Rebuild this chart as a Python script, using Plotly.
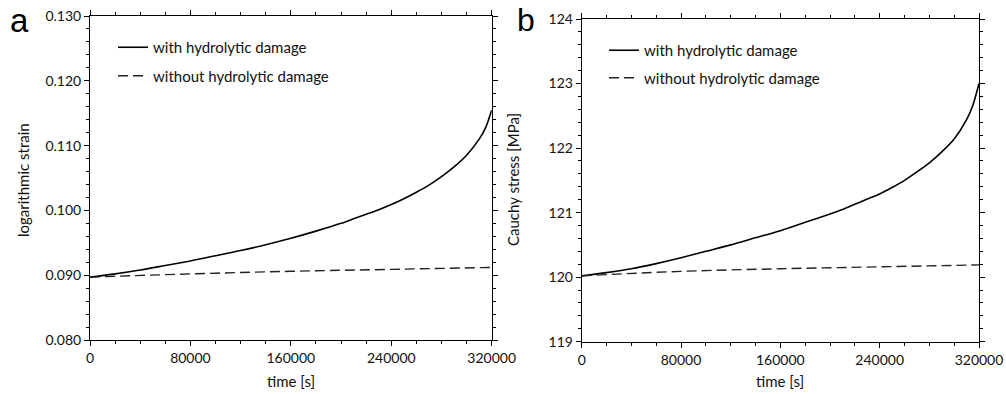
import plotly.graph_objects as go

# ---- data ----
time_s = [0, 20000, 40000, 60000, 80000, 100000, 120000, 140000, 160000, 180000,
          200000, 210000, 220000, 230000, 240000, 250000, 260000, 270000, 280000, 290000,
          300000, 310000, 315000, 320000]
strain_with = [0.0897, 0.0902, 0.0908, 0.0915, 0.0922, 0.0930, 0.0938, 0.0947, 0.0957, 0.0968,
               0.0980, 0.0987, 0.0994, 0.1001, 0.1009, 0.1018, 0.1028, 0.1039, 0.1052, 0.1067,
               0.1085, 0.1110, 0.1127, 0.1155]
time_lin = [0, 80000, 160000, 240000, 320000]
strain_without = [0.0897, 0.0902, 0.0906, 0.0909, 0.0912]

stress_with = [120.02, 120.07, 120.13, 120.21, 120.30, 120.40, 120.50, 120.61, 120.72, 120.85,
               120.98, 121.05, 121.13, 121.21, 121.29, 121.39, 121.50, 121.63, 121.77, 121.94,
               122.14, 122.44, 122.66, 123.00]
stress_without = [120.02, 120.09, 120.13, 120.16, 120.19]

x_ticks = [0, 80000, 160000, 240000, 320000]
x_ticklabels = ["0", "80000", "160000", "240000", "320000"]
ya_ticks = [0.080, 0.090, 0.100, 0.110, 0.120, 0.130]
yb_ticks = [119, 120, 121, 122, 123, 124]

lab_with = "with hydrolytic damage"
lab_without = "without hydrolytic damage"

FONT = "Lato"
W, H = 1006, 394

fig = go.Figure()
fig.add_trace(go.Scatter(x=time_s, y=strain_with, mode="lines", name=lab_with,
                         line=dict(color="black", width=1.6, shape="spline", smoothing=0.8),
                         xaxis="x", yaxis="y", legend="legend", legendgroup="a1"))
fig.add_trace(go.Scatter(x=time_lin, y=strain_without, mode="lines", name=lab_without,
                         line=dict(color="#222", width=1.4, dash="10px,5px", shape="spline"),
                         xaxis="x", yaxis="y", legend="legend", legendgroup="a2"))
fig.add_trace(go.Scatter(x=time_s, y=stress_with, mode="lines", name=lab_with,
                         line=dict(color="black", width=1.6, shape="spline", smoothing=0.8),
                         xaxis="x2", yaxis="y2", legend="legend2", legendgroup="b1"))
fig.add_trace(go.Scatter(x=time_lin, y=stress_without, mode="lines", name=lab_without,
                         line=dict(color="#222", width=1.4, dash="10px,5px", shape="spline"),
                         xaxis="x2", yaxis="y2", legend="legend2", legendgroup="b2"))

def px_x(p):
    return p / W

def px_y(p):
    return 1 - p / H

tickfont = dict(family=FONT, size=14, color="#111")
common_x = dict(range=[0, 320000], tickvals=x_ticks, ticktext=x_ticklabels,
                ticks="outside", ticklen=5, tickwidth=1, tickcolor="black",
                minor=dict(dtick=20000, ticks="outside", ticklen=3, tickcolor="black", showgrid=False),
                showline=True, linecolor="black", linewidth=1, mirror="allticks",
                showgrid=False, zeroline=False, tickfont=tickfont, automargin=False)
common_y = dict(ticks="outside", ticklen=5, tickwidth=1, tickcolor="black",
                showline=True, linecolor="black", linewidth=1, mirror="allticks",
                showgrid=False, zeroline=False, tickfont=tickfont, automargin=False)

legfont = dict(family=FONT, size=15, color="#111")

fig.update_layout(
    width=W, height=H,
    margin=dict(l=0, r=0, t=0, b=0),
    paper_bgcolor="white", plot_bgcolor="white",
    showlegend=True,
    xaxis=dict(domain=[px_x(90), px_x(491.7)], anchor="y", **common_x),
    yaxis=dict(domain=[px_y(340), px_y(16)], anchor="x", range=[0.080, 0.130],
               tickvals=ya_ticks, tickformat=".3f",
               minor=dict(dtick=0.002, ticks="outside", ticklen=3, tickcolor="black", showgrid=False),
               **common_y),
    xaxis2=dict(domain=[px_x(581.7), px_x(979)], anchor="y2", **common_x),
    yaxis2=dict(domain=[px_y(341.7), px_y(19)], anchor="x2", range=[119, 124],
                tickvals=yb_ticks, tickformat="d",
                minor=dict(dtick=0.2, ticks="outside", ticklen=3, tickcolor="black", showgrid=False),
                **common_y),
    legend=dict(x=px_x(113), y=px_y(31), xanchor="left", yanchor="top",
                bgcolor="rgba(0,0,0,0)", font=legfont,
                traceorder="grouped", tracegroupgap=6, itemwidth=30),
    legend2=dict(x=px_x(604), y=px_y(34), xanchor="left", yanchor="top",
                 bgcolor="rgba(0,0,0,0)", font=legfont,
                 traceorder="grouped", tracegroupgap=5, itemwidth=30),
    annotations=[
        dict(text="a", x=px_x(19), y=px_y(21), xref="paper", yref="paper", showarrow=False,
             xanchor="center", yanchor="middle",
             font=dict(family="Liberation Sans", size=33, color="black")),
        dict(text="b", x=px_x(526), y=px_y(20), xref="paper", yref="paper", showarrow=False,
             xanchor="center", yanchor="middle",
             font=dict(family="Liberation Sans", size=32, color="black")),
        dict(text="time [s]", x=px_x(291), y=px_y(381), xref="paper", yref="paper", showarrow=False,
             xanchor="center", yanchor="middle", font=dict(family=FONT, size=15, color="#111")),
        dict(text="time [s]", x=px_x(780), y=px_y(381), xref="paper", yref="paper", showarrow=False,
             xanchor="center", yanchor="middle", font=dict(family=FONT, size=15, color="#111")),
        dict(text="logarithmic strain", x=px_x(23), y=px_y(180), xref="paper", yref="paper",
             showarrow=False, textangle=-90, xanchor="center", yanchor="middle",
             font=dict(family=FONT, size=15, color="#111")),
        dict(text="Cauchy stress [MPa]", x=px_x(513), y=px_y(180), xref="paper", yref="paper",
             showarrow=False, textangle=-90, xanchor="center", yanchor="middle",
             font=dict(family=FONT, size=15, color="#111")),
    ],
)

fig.write_html("out.html", config={"displayModeBar": False},
               post_script="document.body.style.margin='0';")
